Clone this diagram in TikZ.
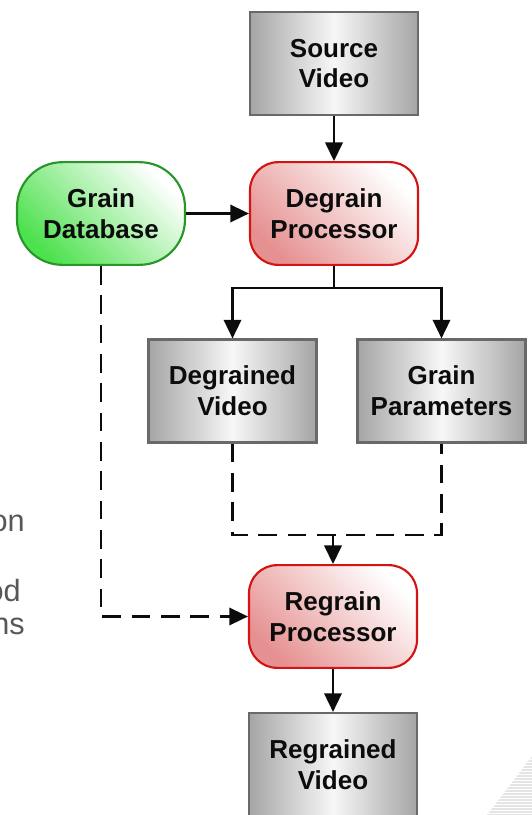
\documentclass[tikz,border=0pt]{standalone}
\usepackage{fontspec}
\setmainfont{Liberation Sans}
\usetikzlibrary{arrows.meta, positioning}
\definecolor{boxedge}{RGB}{105, 105, 105}
\definecolor{boxdark}{RGB}{165, 165, 165}
\definecolor{boxlight}{RGB}{247, 247, 247}
\definecolor{procedge}{RGB}{212, 20, 20}
\definecolor{procfill}{RGB}{230, 145, 145}
\definecolor{dbedge}{RGB}{40, 150, 40}
\definecolor{dbfill}{RGB}{78, 225, 78}
\definecolor{inkcolor}{RGB}{12, 12, 12}
\definecolor{slidetext}{RGB}{88, 88, 88}
\definecolor{stripecolor}{RGB}{228, 228, 228}

\tikzset{
  boxtext/.style={font=\fontsize{19.5}{23}\selectfont\bfseries, text=inkcolor, align=center},
  videobox/.style={boxtext, draw=boxedge, line width=1.8pt, left color=boxdark, right color=boxdark, middle color=boxlight, minimum width=126pt, minimum height=77pt},
  procbox/.style={boxtext, draw=procedge, line width=1.6pt, rounded corners=21pt, bottom color=procfill, top color=white, shading angle=-45, minimum width=126pt, minimum height=77pt},
  dbbox/.style={boxtext, draw=dbedge, line width=1.6pt, rounded corners=34pt, bottom color=dbfill, top color=white, shading angle=-45, minimum width=126pt, minimum height=77pt},
  wire/.style={line width=1.9pt, inkcolor},
  flow/.style={wire, -{Triangle[length=14pt, width=13pt]}},
  dashwire/.style={wire, dash pattern=on 14pt off 8pt},
  dashflow/.style={dashwire, -{Triangle[length=14pt, width=13pt]}},
  slideword/.style={font=\fontsize{23}{27}\selectfont, text=slidetext, anchor=base east, inner sep=0pt}
}

\begin{document}
\begin{tikzpicture}[x=0.75pt, y=-0.75pt]
        \useasboundingbox (0, 0) rectangle (532, 815);
        \clip (0, 0) rectangle (532, 815);

        % Slide background stripes
        \begin{scope}
            \clip (487, 815) -- (533, 755) -- (533, 815) -- cycle;
            \foreach \y in {755, 758, ..., 815}
                \draw[stripecolor, line width=1pt] (480, \y) -- (533, \y);
        \end{scope}

        % Leftover slide text
        \node[slideword] (word1) at (25, 531) {on};
        \node[slideword] (word2) at (21, 601) {od};
        \node[slideword] (word3) at (25, 634) {ns};

        % Inputs and processors
        \node[videobox] (source) at (334, 63.5) {Source\\Video};
        \node[procbox] (degrain) at (334, 213.5) {Degrain\\Processor};
        \node[dbbox] (graindb) at (101, 213.5) {Grain\\Database};

        % Degrain outputs
        \node[videobox] (degvideo) at (232.5, 391) {Degrained\\Video};
        \node[videobox] (params) at (441.5, 391) {Grain\\Parameters};

        % Regrain stage
        \node[procbox] (regrain) at (333, 616.5) {Regrain\\Processor};
        \node[videobox] (regvideo) at (333, 764.5) {Regrained\\Video};

        \coordinate (split) at (334, 288);
        \coordinate (join) at (333, 535);

        % Connections
        \draw[flow] (source) -- (degrain);
        \draw[flow] (graindb) -- (degrain);
        \draw[wire] (degrain) -- (split);
        \draw[flow] (split) -| (degvideo.north);
        \draw[flow] (split) -| (params.north);

        \draw[dashwire] (degvideo.south) |- (join) -| (params.south);
        \draw[dashflow] (join) -- (regrain);
        \draw[dashflow] (graindb.south) |- (regrain.west);

        \draw[flow] (regrain) -- (regvideo);

    \end{tikzpicture}
\end{document}
